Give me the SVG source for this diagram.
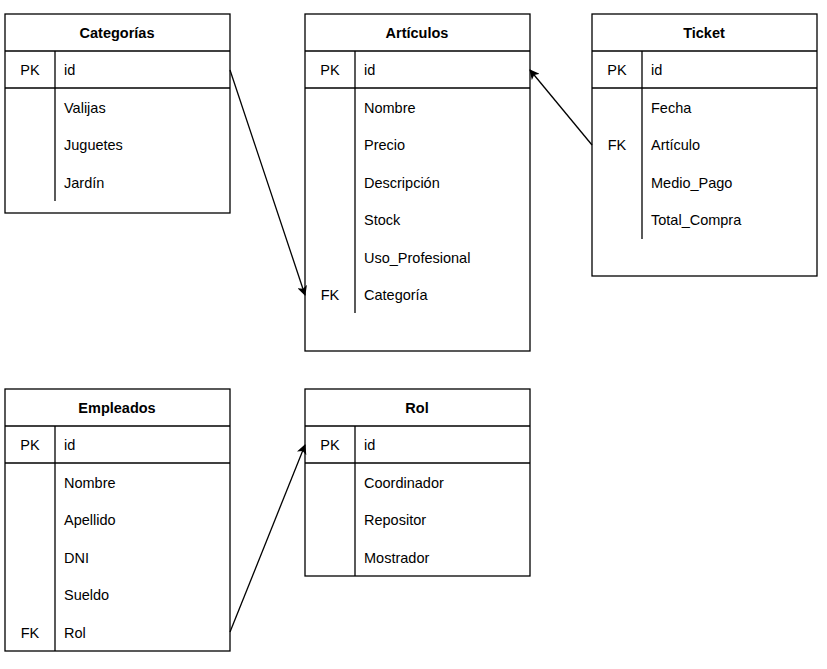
<svg xmlns="http://www.w3.org/2000/svg" width="827" height="669" viewBox="0 0 827 669">
<defs>
<style>
.box{fill:#fff;stroke:#000;stroke-width:1.3}
.ln{stroke:#000;stroke-width:1.3;fill:none}
text{font-family:"Liberation Sans",Arial,sans-serif;font-size:14.5px;fill:#000}
.t{font-weight:bold;text-anchor:middle}
.k{text-anchor:middle}
.c{stroke:#000;stroke-width:1.3;fill:none;marker-end:url(#ah)}
</style>
<marker id="ah" viewBox="0 0 10 10" refX="9" refY="5" markerWidth="10" markerHeight="10" markerUnits="userSpaceOnUse" orient="auto">
<path d="M0,0 L10,5 L0,10 L2.5,5 Z" fill="#000"/>
</marker>
</defs>
<rect width="827" height="669" fill="#fff"/>

<g id="categorias">
<rect class="box" x="5" y="14" width="225" height="199"/>
<line class="ln" x1="5" y1="51" x2="230" y2="51"/>
<line class="ln" x1="5" y1="88" x2="230" y2="88"/>
<line class="ln" x1="55" y1="51" x2="55" y2="201"/>
<text class="t" x="117" y="38">Categorías</text>
<text class="k" x="30" y="75">PK</text>
<text x="64" y="75">id</text>
<text x="64" y="113">Valijas</text>
<text x="64" y="150">Juguetes</text>
<text x="64" y="188">Jardín</text>
</g>

<g id="articulos">
<rect class="box" x="305" y="14" width="225" height="337"/>
<line class="ln" x1="305" y1="51" x2="530" y2="51"/>
<line class="ln" x1="305" y1="88" x2="530" y2="88"/>
<line class="ln" x1="355" y1="51" x2="355" y2="313"/>
<text class="t" x="417" y="38">Artículos</text>
<text class="k" x="330" y="75">PK</text>
<text x="364" y="75">id</text>
<text x="364" y="113">Nombre</text>
<text x="364" y="150">Precio</text>
<text x="364" y="188">Descripción</text>
<text x="364" y="225">Stock</text>
<text x="364" y="263">Uso_Profesional</text>
<text class="k" x="330" y="300">FK</text>
<text x="364" y="300">Categoría</text>
</g>

<g id="ticket">
<rect class="box" x="592" y="14" width="225" height="262"/>
<line class="ln" x1="592" y1="51" x2="817" y2="51"/>
<line class="ln" x1="592" y1="88" x2="817" y2="88"/>
<line class="ln" x1="642" y1="51" x2="642" y2="239"/>
<text class="t" x="704" y="38">Ticket</text>
<text class="k" x="617" y="75">PK</text>
<text x="651" y="75">id</text>
<text x="651" y="113">Fecha</text>
<text class="k" x="617" y="150">FK</text>
<text x="651" y="150">Artículo</text>
<text x="651" y="188">Medio_Pago</text>
<text x="651" y="225">Total_Compra</text>
</g>

<g id="empleados">
<rect class="box" x="5" y="389" width="225" height="262"/>
<line class="ln" x1="5" y1="426" x2="230" y2="426"/>
<line class="ln" x1="5" y1="463" x2="230" y2="463"/>
<line class="ln" x1="55" y1="426" x2="55" y2="651"/>
<text class="t" x="117" y="413">Empleados</text>
<text class="k" x="30" y="450">PK</text>
<text x="64" y="450">id</text>
<text x="64" y="488">Nombre</text>
<text x="64" y="525">Apellido</text>
<text x="64" y="563">DNI</text>
<text x="64" y="600">Sueldo</text>
<text class="k" x="30" y="638">FK</text>
<text x="64" y="638">Rol</text>
</g>

<g id="rol">
<rect class="box" x="305" y="389" width="225" height="187"/>
<line class="ln" x1="305" y1="426" x2="530" y2="426"/>
<line class="ln" x1="305" y1="463" x2="530" y2="463"/>
<line class="ln" x1="355" y1="426" x2="355" y2="576"/>
<text class="t" x="417" y="413">Rol</text>
<text class="k" x="330" y="450">PK</text>
<text x="364" y="450">id</text>
<text x="364" y="488">Coordinador</text>
<text x="364" y="525">Repositor</text>
<text x="364" y="563">Mostrador</text>
</g>

<g id="connectors">
<path class="c" d="M230,70 L305,295"/>
<path class="c" d="M592,145 L530,70"/>
<path class="c" d="M230,632 L305,445"/>
</g>
</svg>
